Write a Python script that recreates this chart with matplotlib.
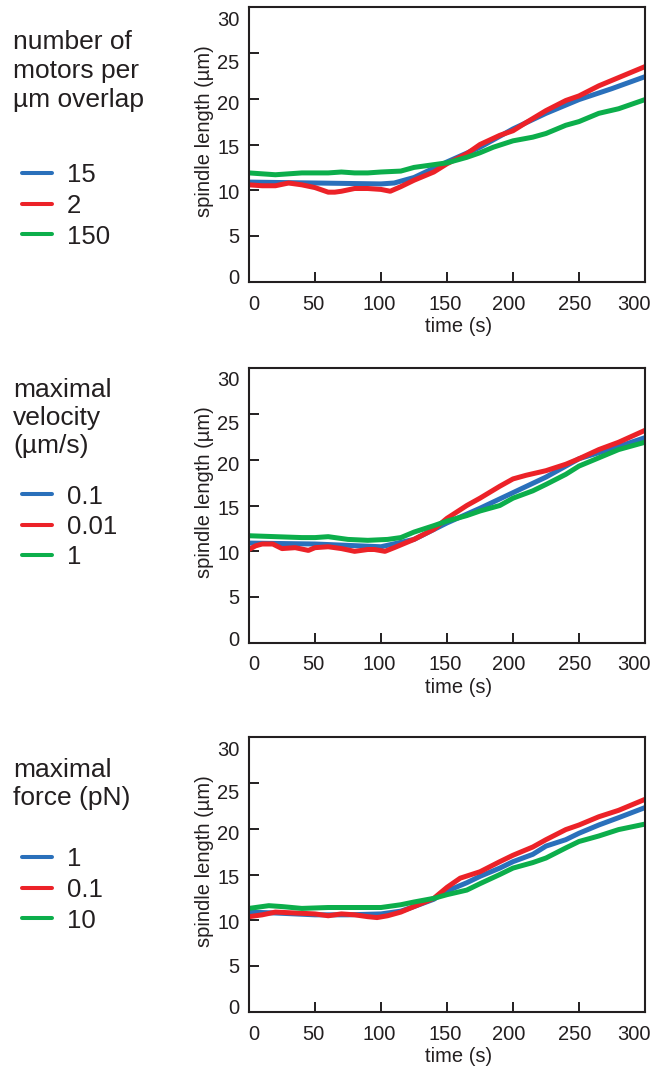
import numpy as np
import matplotlib
matplotlib.use('Agg')
import matplotlib.pyplot as plt
import matplotlib.transforms as mtransforms

plt.rcParams['font.family'] = ['Liberation Sans', 'DejaVu Sans']
TXT = '#231f20'

# ---- series colours ----
BLUE = '#2a70bb'
RED = '#ec2228'
GREEN = '#0cae4b'

# ---- panel 1 : number of motors per um overlap ----
t1_blue = [0, 50, 100, 110, 125, 150, 175, 200, 225, 250, 275, 300]
v1_blue = [10.9, 10.8, 10.7, 10.8, 11.4, 13.1, 14.7, 16.7, 18.4, 19.9, 21.1, 22.4]
t1_red = [0, 10, 20, 30, 40, 50, 60, 65, 70, 80, 90, 100, 107, 115, 125, 140, 150,
          165, 175, 190, 200, 210, 225, 240, 250, 265, 280, 300]
v1_red = [10.6, 10.5, 10.5, 10.8, 10.6, 10.3, 9.8, 9.8, 9.9, 10.2, 10.2, 10.1, 9.9,
          10.4, 11.1, 12.0, 12.9, 14.0, 15.0, 16.0, 16.5, 17.4, 18.7, 19.8, 20.3,
          21.4, 22.3, 23.5]
t1_green = [0, 20, 40, 60, 70, 80, 90, 100, 115, 125, 140, 150, 165, 175, 185, 200,
            215, 225, 240, 250, 265, 280, 300]
v1_green = [11.9, 11.7, 11.9, 11.9, 12.0, 11.9, 11.9, 12.0, 12.1, 12.5, 12.8, 13.0,
            13.6, 14.1, 14.7, 15.4, 15.8, 16.2, 17.1, 17.5, 18.4, 18.9, 19.9]

# ---- panel 2 : maximal velocity ----
t2_blue = [0, 50, 100, 125, 150, 175, 200, 225, 250, 275, 300]
v2_blue = [10.9, 10.8, 10.5, 11.3, 13.1, 14.7, 16.4, 18.1, 20.1, 21.2, 22.4]
t2_red = [0, 5, 10, 18, 25, 35, 45, 50, 60, 70, 80, 90, 95, 103, 110, 125, 140, 150,
          165, 175, 190, 200, 210, 225, 240, 250, 265, 280, 300]
v2_red = [10.2, 10.6, 10.8, 10.8, 10.3, 10.4, 10.1, 10.4, 10.5, 10.3, 10.0, 10.2,
          10.2, 10.0, 10.4, 11.3, 12.4, 13.6, 15.0, 15.8, 17.1, 17.9, 18.3, 18.8,
          19.5, 20.1, 21.1, 21.9, 23.2]
t2_green = [0, 20, 40, 50, 60, 75, 90, 105, 115, 125, 140, 150, 165, 175, 190, 200,
            215, 225, 240, 250, 265, 280, 300]
v2_green = [11.7, 11.6, 11.5, 11.5, 11.6, 11.3, 11.2, 11.3, 11.5, 12.1, 12.8, 13.3,
            13.9, 14.4, 15.0, 15.8, 16.6, 17.3, 18.4, 19.3, 20.2, 21.1, 21.9]

# ---- panel 3 : maximal force ----
t3_blue = [0, 20, 50, 75, 100, 115, 125, 140, 150, 165, 175, 190, 200, 215, 225,
           240, 250, 265, 280, 300]
v3_blue = [10.9, 10.8, 10.6, 10.6, 10.7, 11.0, 11.5, 12.3, 13.2, 14.1, 14.8, 15.7,
           16.4, 17.2, 18.1, 18.8, 19.5, 20.4, 21.2, 22.3]
t3_red = [0, 10, 20, 35, 50, 60, 70, 80, 90, 97, 105, 115, 125, 140, 150, 160, 175,
          190, 200, 215, 225, 240, 250, 265, 280, 300]
v3_red = [10.4, 10.6, 10.9, 10.8, 10.7, 10.5, 10.7, 10.6, 10.4, 10.3, 10.5, 10.9,
          11.5, 12.4, 13.6, 14.6, 15.3, 16.4, 17.1, 18.0, 18.8, 19.9, 20.4, 21.3,
          22.0, 23.2]
t3_green = [0, 15, 25, 40, 60, 80, 100, 115, 125, 140, 150, 165, 175, 190, 200, 215,
            225, 240, 250, 265, 280, 300]
v3_green = [11.3, 11.6, 11.5, 11.3, 11.4, 11.4, 11.4, 11.7, 12.0, 12.4, 12.8, 13.3,
            14.0, 15.0, 15.7, 16.3, 16.8, 17.9, 18.6, 19.2, 19.9, 20.5]

titles = ['number of\nmotors per\n\u00b5m overlap',
          'maximal\nvelocity\n(\u00b5m/s)',
          'maximal\nforce (pN)']
labels = [['15', '2', '150'], ['0.1', '0.01', '1'], ['1', '0.1', '10']]

xticks = [0, 50, 100, 150, 200, 250, 300]
yticks = [0, 5, 10, 15, 20, 25, 30]

panels = [
    [(t1_blue, v1_blue), (t1_red, v1_red), (t1_green, v1_green)],
    [(t2_blue, v2_blue), (t2_red, v2_red), (t2_green, v2_green)],
    [(t3_blue, v3_blue), (t3_red, v3_red), (t3_green, v3_green)],
]

W, H = 655, 1068
fig = plt.figure(figsize=(W / 100, H / 100), dpi=100)

ax_tops = [7, 368, 737]          # top edge of each axes, px
title_last = [107, 453, 805]     # baseline of last title line, px
title_lsp = [1.27, 1.21, 1.23]
legend_top = [173, 494, 857]     # centre of first legend row, px
ax_h = 275
ax_left, ax_w = 249, 396

# tick labels sit slightly squeezed toward the middle (px shifts)
xlab_dx = [5, -2, -2, -2, -4, -4, -11]
ylab_dy = [5, 1, -1, -2, -4, -9, -11]

for k in range(3):
    ax = fig.add_axes([ax_left / W, 1 - (ax_tops[k] + ax_h) / H, ax_w / W, ax_h / H])
    handles = []
    for (tt, vv), c in zip(panels[k], [BLUE, RED, GREEN]):
        ln, = ax.plot(tt, vv, color=c, lw=3.6, solid_capstyle='butt',
                      solid_joinstyle='round')
        handles.append(ln)
    ax.set_xlim(0, 300)
    ax.set_ylim(0, 30)
    ax.set_xticks(xticks)
    ax.set_yticks(yticks)
    ax.tick_params(direction='in', length=7, width=1.4, labelsize=14.5,
                   colors=TXT, pad=7)
    ax.tick_params(axis='x', pad=9)
    for s in ax.spines.values():
        s.set_linewidth(1.5)
        s.set_color(TXT)

    for tk, dx in zip(ax.xaxis.get_major_ticks(), xlab_dx):
        off = mtransforms.ScaledTranslation(dx / 100, 0, fig.dpi_scale_trans)
        tk.label1.set_transform(tk.label1.get_transform() + off)
    for tk, dy in zip(ax.yaxis.get_major_ticks(), ylab_dy):
        off = mtransforms.ScaledTranslation(0, dy / 100, fig.dpi_scale_trans)
        tk.label1.set_transform(tk.label1.get_transform() + off)

    ax.set_xlabel('time (s)', fontsize=14.5, color=TXT)
    ax.set_ylabel('spindle length (\u00b5m)', fontsize=14.5, color=TXT)
    ax.xaxis.set_label_coords(0.528, -0.127)
    ax.yaxis.set_label_coords(-0.088, 0.549)

    fig.text(13 / W, 1 - title_last[k] / H, titles[k], fontsize=19, color=TXT,
             ha='left', va='baseline', linespacing=title_lsp[k])

    # legend rows
    for i, (h, lab) in enumerate(zip(handles, labels[k])):
        yc = 1 - (legend_top[k] + i * 30.5) / H
        fig.lines.append(plt.Line2D([22 / W, 52 / W], [yc, yc], color=h.get_color(),
                                    lw=2.9, solid_capstyle='round',
                                    transform=fig.transFigure))
        fig.text(67 / W, yc, lab, fontsize=18.5, color=TXT, ha='left',
                 va='center_baseline')

fig.savefig('out.png', dpi=100)
